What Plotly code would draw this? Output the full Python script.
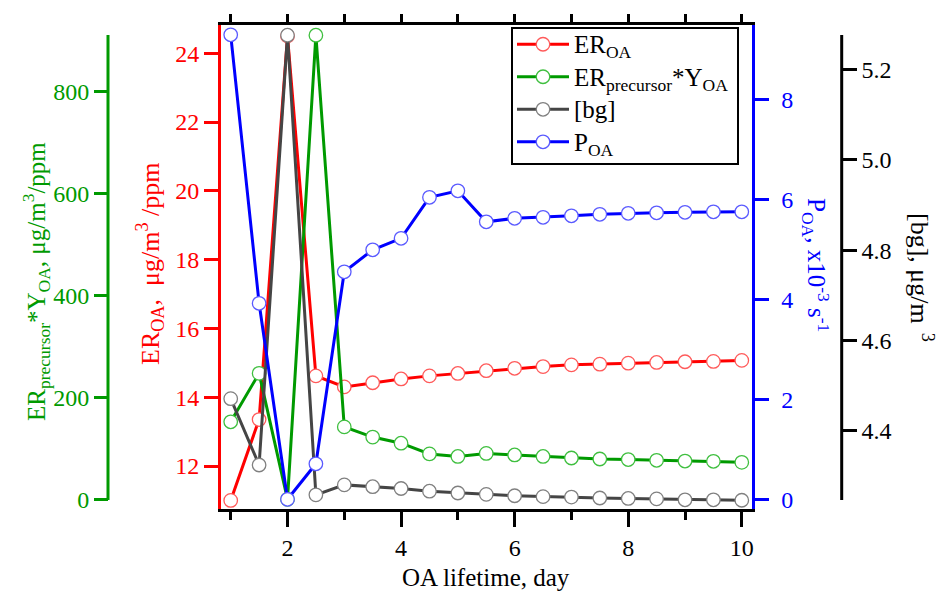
import plotly.graph_objects as go

# ---------------- data ----------------
lifetime = [1, 1.5, 2, 2.5, 3, 3.5, 4, 4.5, 5, 5.5, 6, 6.5, 7, 7.5, 8, 8.5, 9, 9.5, 10]
er_oa = [11.0, 13.35, 24.5, 14.62, 14.30, 14.42, 14.53, 14.62, 14.69, 14.77, 14.84,
         14.89, 14.94, 14.96, 14.99, 15.01, 15.03, 15.04, 15.07]
er_prec_y = [152, 247, 0, 910, 142, 122, 110, 89, 84, 90, 87, 84, 81, 79, 78,
             76.5, 75, 74.5, 72.5]
bg = [4.471, 4.324, 5.276, 4.258, 4.280, 4.276, 4.272, 4.266, 4.262, 4.259, 4.256,
      4.254, 4.253, 4.251, 4.250, 4.249, 4.247, 4.247, 4.246]
p_oa = [9.29, 3.92, 0.0, 0.71, 4.55, 4.99, 5.22, 6.04, 6.17, 5.55, 5.62, 5.64, 5.67,
        5.70, 5.72, 5.73, 5.74, 5.75, 5.75]

x_ticks = [2, 4, 6, 8, 10]
red_ticks = [12, 14, 16, 18, 20, 22, 24]
green_ticks = [0, 200, 400, 600, 800]
blue_ticks = [0, 2, 4, 6, 8]
black_ticks = [4.4, 4.6, 4.8, 5.0, 5.2]

names = ["ER<sub>OA</sub>", "ER<sub>precursor</sub>*Y<sub>OA</sub>", "[bg]", "P<sub>OA</sub>"]

# ---------------- layout helpers ----------------
W, H = 947, 592
ML, MR, MT, MB = 60, 60, 25, 83
PW, PH = W - ML - MR, H - MT - MB


def px_x(X):                 # screenshot pixel -> paper fraction
    return (X - ML) / PW


def px_y(Y):
    return (H - MB - Y) / PH


FONT = "Liberation Serif"
RED, GREEN, GRAY, BLUE = "#ff0000", "#009a00", "#454545", "#0000ff"

fig = go.Figure()


def add(y, name, color, mcolor, yaxis):
    fig.add_trace(go.Scatter(
        x=lifetime, y=y, name='<span style="font-size:25px">' + name + "</span>",
        mode="lines+markers", yaxis=yaxis,
        line=dict(color=color, width=3),
        marker=dict(symbol="circle", size=13.5, color="white",
                    line=dict(color=mcolor, width=1.3)),
        cliponaxis=False,
    ))


add(er_oa, names[0], RED, "#ff5a5a", "y")
add(er_prec_y, names[1], GREEN, "#3fbf3f", "y2")
add(bg, names[2], GRAY, "#808080", "y3")
add(p_oa, names[3], BLUE, "#5a5aff", "y4")

# dummy trace to materialise the top axis
fig.add_trace(go.Scatter(x=lifetime, y=er_oa, xaxis="x2", yaxis="y", mode="lines",
                         line=dict(width=0), showlegend=False, hoverinfo="skip"))


def tickfont(c):
    return dict(family=FONT, size=24, color=c)


fig.update_layout(
    width=W, height=H,
    margin=dict(l=ML, r=MR, t=MT, b=MB, autoexpand=False),
    paper_bgcolor="white", plot_bgcolor="white",
    font=dict(family=FONT, size=24),
    xaxis=dict(domain=[px_x(221), px_x(751.5)], range=[0.829, 10.171],
               tickvals=x_ticks, ticks="outside", ticklen=15, tickwidth=3,
               tickcolor="black", showline=True, linecolor="black", linewidth=3,
               showgrid=False, zeroline=False, tickfont=tickfont("black"),
               minor=dict(dtick=1, tick0=0, ticks="outside", ticklen=8,
                          tickwidth=3, tickcolor="black", showgrid=False),
               anchor="y"),
    xaxis2=dict(overlaying="x", matches="x", side="top", anchor="y",
                range=[0.829, 10.171], dtick=1, tick0=0, ticks="outside",
                ticklen=8, tickwidth=3, tickcolor="black", showticklabels=False,
                showline=True, linecolor="black", linewidth=3, showgrid=False,
                zeroline=False),
    yaxis=dict(range=[10.75, 24.82], tickvals=red_ticks, ticks="outside",
               ticklen=14, tickwidth=3, tickcolor=RED, showline=True,
               linecolor=RED, linewidth=3, showgrid=False, zeroline=False,
               tickfont=tickfont(RED), anchor="x", side="left"),
    yaxis2=dict(range=[-19, 930], tickvals=green_ticks, ticks="outside",
                ticklen=14, tickwidth=3, tickcolor=GREEN, showline=False,
                showgrid=False, zeroline=False, tickfont=tickfont(GREEN),
                overlaying="y", anchor="free", position=px_x(108), side="left"),
    yaxis3=dict(range=[4.2266, 5.2986], tickvals=black_ticks, tickformat=".1f",
                ticks="outside", ticklen=14, tickwidth=3, tickcolor="black",
                showline=False, showgrid=False, zeroline=False,
                tickfont=tickfont("black"), overlaying="y", anchor="free",
                position=px_x(841.7), side="right"),
    yaxis4=dict(range=[-0.194, 9.486], tickvals=blue_ticks, ticks="outside",
                ticklen=14, tickwidth=3, tickcolor=BLUE, showline=True,
                linecolor=BLUE, linewidth=3, showgrid=False, zeroline=False,
                tickfont=tickfont(BLUE), overlaying="y", anchor="x", side="right",
                ticklabelstandoff=8),
    legend=dict(x=px_x(512), y=px_y(23), xanchor="left", yanchor="top",
                borderwidth=0, bgcolor="rgba(0,0,0,0)",
                font=dict(family=FONT, size=22.7, color="black"), itemwidth=52,
                tracegroupgap=0),
    showlegend=True,
)

# legend frame
fig.add_shape(type="rect", xref="paper", yref="paper",
              x0=px_x(512), x1=px_x(738), y0=px_y(164), y1=px_y(28),
              line=dict(color="black", width=2), fillcolor="rgba(0,0,0,0)",
              layer="above")

# free-axis lines (shorter than the plot area)
for X, c in [(108, GREEN), (841.7, "black")]:
    fig.add_shape(type="line", xref="paper", yref="paper",
                  x0=px_x(X), x1=px_x(X), y0=px_y(500), y1=px_y(35),
                  line=dict(color=c, width=3))

NB = "\u00a0"
titles = [
    ("ER<sub>precursor</sub>*Y<sub>OA</sub>, μg/m<sup>3</sup>/ppm", 36, 282, -90, GREEN, 25),
    ("ER<sub>OA</sub>," + NB + " μg/m<sup>3</sup>" + NB + "/ppm", 150, 264, -90, RED, 26),
    ("P<sub>OA</sub>, x10<sup>-3</sup> s<sup>-1</sup>", 816, 265, 90, BLUE, 25),
    ("[bg], μg/m<sup>" + NB + NB + "3</sup>", 922, 277, 90, "black", 26),
    ("OA lifetime, day", 486, 577, 0, "black", 25),
]
for text, X, Y, ang, c, fs in titles:
    fig.add_annotation(text=text, xref="paper", yref="paper", x=px_x(X), y=px_y(Y),
                       xanchor="center", yanchor="middle", showarrow=False,
                       textangle=ang, font=dict(family=FONT, size=fs, color=c))

# remove the default 8px page margin so the figure fills the 947x592 window
fig.write_html("out.html",
               config={"displayModeBar": False},
               post_script="document.body.style.margin='0px';"
                           "document.body.style.overflow='hidden';")
